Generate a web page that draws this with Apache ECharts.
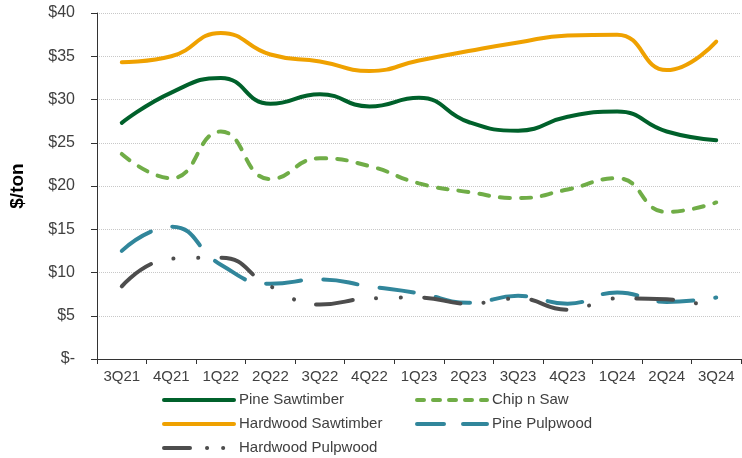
<!DOCTYPE html>
<html>
<head>
<meta charset="UTF-8" />
<script type="text/javascript" src="https://cdn.jsdelivr.net/npm/echarts@6/dist/echarts.min.js"></script>
<title>Stumpage prices</title>
<style>html, body { margin: 0; padding: 0; background: #fff; }</style>
</head>
<body>
<div id="main" style="width: 742px; height: 458px"></div>
<script type="text/javascript">
	var quarters = ['3Q21', '4Q21', '1Q22', '2Q22', '3Q22', '4Q22', '1Q23', '2Q23', '3Q23', '4Q23', '1Q24', '2Q24', '3Q24']
	var yTickLabels = ['$-', '$5', '$10', '$15', '$20', '$25', '$30', '$35', '$40']

	var pineSawtimber = [27.3, 30.8, 32.5, 29.5, 30.6, 29.2, 30.2, 27.4, 26.4, 28.0, 28.6, 26.3, 25.3]
	var chipNSaw = [23.7, 20.9, 26.3, 20.8, 23.2, 22.3, 20.3, 19.3, 18.6, 19.6, 20.9, 17.0, 18.1]
	var hardwoodSawtimber = [34.3, 35.0, 37.7, 35.2, 34.4, 33.3, 34.5, 35.6, 36.6, 37.4, 37.5, 33.4, 36.7]
	var pinePulpwood = [12.5, 15.3, 10.9, 8.7, 9.2, 8.4, 7.6, 6.5, 7.3, 6.4, 7.7, 6.6, 7.1]
	var hardwoodPulpwood = [8.4, 11.6, 11.7, 8.4, 6.3, 7.0, 7.1, 6.4, 7.0, 5.7, 7.0, 6.9, 5.8]

	var font = 'Liberation Sans, Arial, sans-serif'

	function lineSeries(name, data, color, dash) {
		return {
			name : name,
			type : 'line',
			data : data,
			smooth : true,
			symbol : 'none',
			lineStyle : {
				color : color,
				width : 4,
				type : dash,
				cap : 'round'
			},
			itemStyle : { color : color }
		}
	}

	// legend entry: line only, hide the little circle echarts puts in the middle
	function legendItem(name, dash) {
		return {
			name : name,
			lineStyle : { type : dash },
			itemStyle : { opacity : 0, color : 'rgba(0,0,0,0)', borderWidth : 0 }
		}
	}

	var legendCommon = {
		orient : 'vertical',
		top : 392,
		height : 70,
		padding : 0,
		itemWidth : 70,
		itemHeight : 4,
		itemGap : 8,
		textStyle : { fontFamily : font, fontSize : 15, color : '#404040', lineHeight : 16 },
		lineStyle : { width : 4, cap : 'round' }
	}

	var option = {
		animation : false,
		grid : { left : 96, right : 1, top : 13, bottom : 99 },
		legend : [
			Object.assign({}, legendCommon, {
				left : 162,
				data : [
					legendItem('Pine Sawtimber', 'solid'),
					legendItem('Hardwood Sawtimber', 'solid'),
					legendItem('Hardwood Pulpwood', [26, 17, 0.1, 16, 0.1, 20])
				]
			}),
			Object.assign({}, legendCommon, {
				left : 415,
				data : [
					legendItem('Chip n Saw', [7, 9]),
					legendItem('Pine Pulpwood', [27, 19])
				]
			})
		],
		xAxis : {
			type : 'category',
			data : quarters,
			boundaryGap : true,
			axisLine : { lineStyle : { color : '#333', width : 1 } },
			axisTick : { show : true, length : 5, lineStyle : { color : '#333' } },
			axisLabel : { margin : 10, fontFamily : font, fontSize : 15, color : '#404040' }
		},
		yAxis : {
			type : 'value',
			min : 0,
			max : 40,
			interval : 5,
			name : '$/ton',
			nameLocation : 'middle',
			nameGap : 70,
			nameTextStyle : { fontFamily : font, fontSize : 19, fontWeight : 'bold', color : '#000' },
			axisLine : { show : true, lineStyle : { color : '#333', width : 1 } },
			axisTick : { show : true, length : 6, lineStyle : { color : '#333' } },
			axisLabel : {
				margin : 22,
				fontFamily : font,
				fontSize : 16,
				color : '#404040',
				formatter : function(v) { return yTickLabels[Math.round(v / 5)] }
			},
			splitLine : { lineStyle : { color : '#c8c8c8', type : 'dotted', width : 1 } }
		},
		series : [
			lineSeries('Pine Sawtimber', pineSawtimber, '#00612b', 'solid'),
			lineSeries('Chip n Saw', chipNSaw, '#70ad47', [10, 11]),
			lineSeries('Hardwood Sawtimber', hardwoodSawtimber, '#efa100', 'solid'),
			lineSeries('Pine Pulpwood', pinePulpwood, '#31869b', [35, 22]),
			lineSeries('Hardwood Pulpwood', hardwoodPulpwood, '#4d4d4d', [37, 23, 0.1, 25, 0.1, 23])
		]
	}

	var myChart = echarts.init(document.getElementById('main'))
	myChart.setOption(option)
</script>
</body>
</html>
